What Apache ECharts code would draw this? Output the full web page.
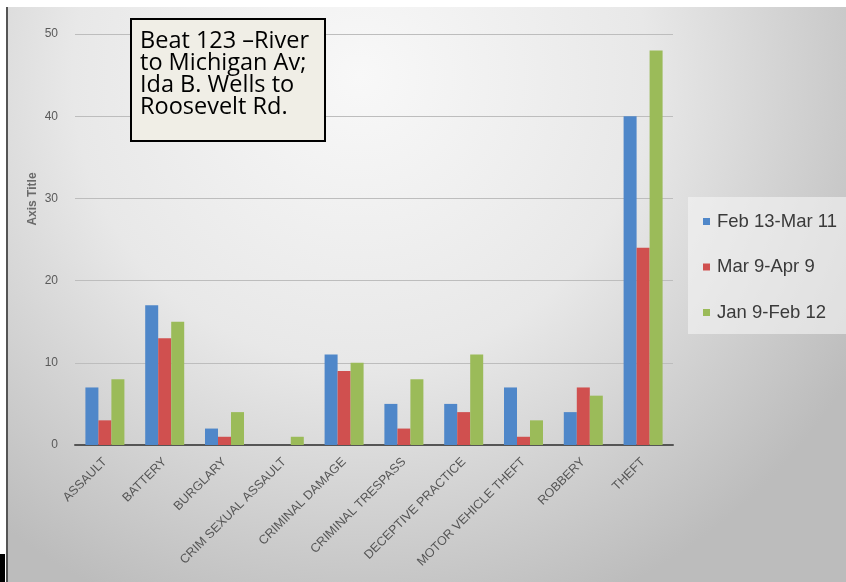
<!DOCTYPE html>
<html><head><meta charset="utf-8">
<script src="https://cdn.jsdelivr.net/npm/echarts@6/dist/echarts.min.js"></script>
<style>html,body{margin:0;padding:0;background:#fff}#c{width:846px;height:582px}</style>
</head><body><div id="c"></div>
<script>
const categories = ['ASSAULT','BATTERY','BURGLARY','CRIM SEXUAL ASSAULT','CRIMINAL DAMAGE','CRIMINAL TRESPASS','DECEPTIVE PRACTICE','MOTOR VEHICLE THEFT','ROBBERY','THEFT'];
const seriesNames = ['Feb 13-Mar 11','Mar 9-Apr 9','Jan 9-Feb 12'];
const febMar = [7,17,2,0,11,5,5,7,4,40];
const marApr = [3,13,1,0,9,2,4,1,7,24];
const janFeb = [8,15,4,1,10,8,11,3,6,48];
const colors = ['#4f87c9','#d0504f','#9bbb59'];
const yTicks = [0,10,20,30,40,50];

const chart = echarts.init(document.getElementById('c'));
const data = [febMar, marApr, janFeb];
chart.setOption({
  animation:false,
  backgroundColor:'#ffffff',
  graphic:[
    {type:'rect', z:-10, shape:{x:8,y:7,width:838,height:575},
     style:{fill:{type:'radial',x:0.42,y:0.12,r:1.0,colorStops:[{offset:0,color:'#f8f8f8'},{offset:0.5,color:'#e8e8e8'},{offset:1,color:'#bcbcbc'}]}}},
    {type:'rect', z:-9, shape:{x:6,y:7,width:2,height:575}, style:{fill:'#555'}},
    {type:'rect', z:-9, shape:{x:0,y:554,width:5,height:28}, style:{fill:'#000'}},
    {type:'rect', z:-9, shape:{x:688,y:197,width:158,height:137}, style:{fill:'rgba(245,245,245,0.6)'}},
    {type:'rect', z:50, shape:{x:131,y:19,width:194,height:122}, style:{fill:'#f0eee6',stroke:'#000',lineWidth:2}},
    {type:'text', z:51, left:140, top:29, style:{text:'Beat 123 \u2013River\nto Michigan Av;\nIda B. Wells to\nRoosevelt Rd.', font:'23.5px "Open Sans"', lineHeight:22, fill:'#000'}},
    {type:'text', z:5, x:33, y:199, rotation:Math.PI/2, style:{text:'Axis Title', font:'bold 12px "Liberation Sans"', fill:'#6a6a6a', align:'center', verticalAlign:'middle'}}
  ],
  grid:{left:75, right:173, top:34, bottom:137, containLabel:false},
  legend:{
    orient:'vertical', left:698, top:207, itemWidth:7, itemHeight:7, itemGap:26.5, icon:'rect',
    textStyle:{fontFamily:'Liberation Sans', fontSize:18.5, color:'#3a3a3a', padding:[0,0,0,2]},
    data:seriesNames
  },
  xAxis:{
    type:'category', data:categories,
    axisLine:{lineStyle:{color:'#555', width:2}},
    axisTick:{show:false},
    axisLabel:{interval:0, rotate:45, fontFamily:'Liberation Sans', fontSize:12.5, color:'#555', margin:15}
  },
  yAxis:{
    type:'value', min:0, max:50, interval:10,
    axisLine:{show:false}, axisTick:{show:false},
    axisLabel:{fontFamily:'Liberation Sans', fontSize:12, color:'#5a5a5a', margin:17},
    splitLine:{lineStyle:{color:'#bdbdbd', width:1}}
  },
  series: seriesNames.map((n,i)=>({
    name:n, type:'bar', data:data[i], barWidth:13, barGap:'0%',
    itemStyle:{color:colors[i]}
  }))
});
</script></body></html>
